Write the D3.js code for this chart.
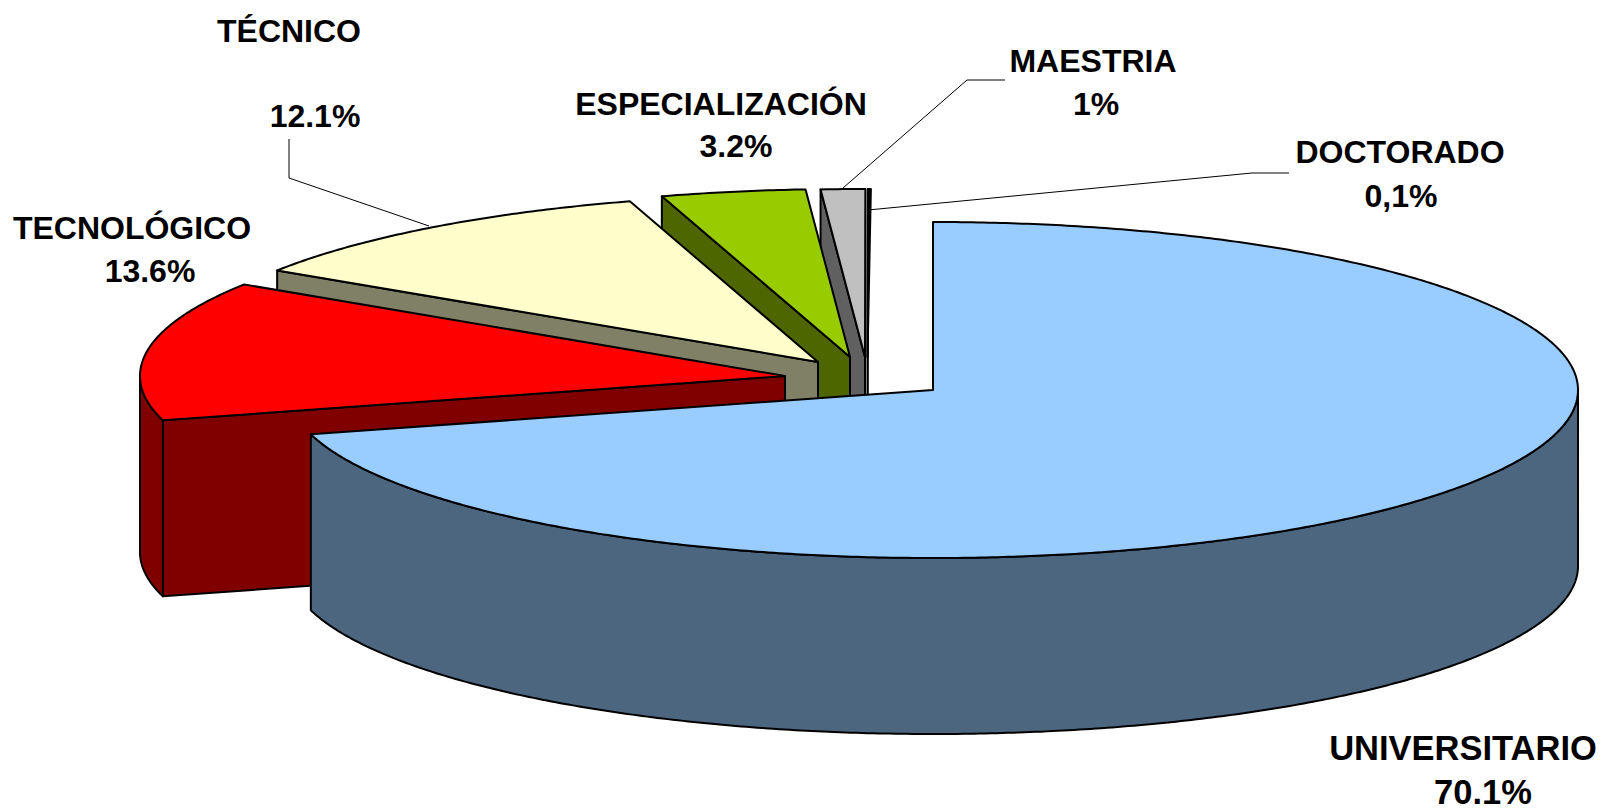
<!DOCTYPE html>
<html><head><meta charset="utf-8">
<style>html,body{margin:0;background:#fff;overflow:hidden}svg{display:block}text{font-family:"Liberation Sans",Arial,sans-serif;font-weight:bold;fill:#000;text-anchor:middle}</style>
<script src="https://cdn.jsdelivr.net/npm/d3@7/dist/d3.min.js"></script>
</head><body><svg id="c" width="1604" height="812"></svg>
<script>
const categories = ["UNIVERSITARIO","TECNOLÓGICO","TÉCNICO","ESPECIALIZACIÓN","MAESTRIA","DOCTORADO"];
const values = [70.1,13.6,12.1,3.2,1,0.1];
const valueLabels = ["70.1%","13.6%","12.1%","3.2%","1%","0,1%"];
const topColors = ["#99CCFF","#FF0000","#FFFFCC","#99CC00","#C0C0C0","#000000"];
const sideColors = ["#4C6680","#800000","#808066","#4D6600","#606060","#000000"];

// layout
const W = 1604, H = 812, rx = 645, ry = 168, depth = 176;
const apex = [[933,390],[785,376],[818,362],[850,357],[865,357],[867.5,357]];
const nameAt = [[1463,760],[132,239],[289,42],[721,115],[1093,72],[1400,163]];
const valueAt = [[1483,804],[150,282],[315,127],[736,157],[1096,115],[1401,207]];
const fontSizes = [34.5,32,32,32,32,32];
const leaders = [
  [[289,139],[289,178],[429,226]],
  [[843,188],[967,80],[1005,80]],
  [[868,210],[1252,173],[1289,173]]
];
const deg = Math.PI/180;

// perspective of the tilted pie: true pie angle -> angle on the drawn ellipse
const perspective = d3.scaleLinear()
  .domain([0,252.1,301,344.5,356,359.6,360].map(d=>d*deg))
  .range([0,254.7,303,343,356,360,360.3].map(d=>d*deg));

const arcs = d3.pie().sort(null).value(d=>d).startAngle(0).endAngle(2*Math.PI)(values);
const px = d3.scaleLinear().domain([-1,1]).range([-rx,rx]);
const py = d3.scaleLinear().domain([-1,1]).range([-ry,ry]);
const rim = (a,o,dy=0)=>[o[0]+px(Math.sin(a)), o[1]-py(Math.cos(a))+dy];
const arcPts = (a0,a1,o,dy=0)=>{
  const n = Math.max(2,Math.ceil((a1-a0)/(0.5*deg)));
  return d3.range(n+1).map(i=>rim(a0+(a1-a0)*i/n,o,dy));
};
const line = d3.line().curve(d3.curveLinear);
const closed = p=>line(p)+"Z";
const svg = d3.select("#c");
const g = svg.append("g").attr("stroke","#000").attr("stroke-width",2).attr("stroke-linejoin","round");

// back to front
d3.range(arcs.length-1,-1,-1).forEach(i=>{
  const o = apex[i];
  const a0 = perspective(arcs[i].startAngle), a1 = perspective(arcs[i].endAngle);
  // radial cut face at the start angle
  if(i>0){
    const e = rim(a0,o);
    g.append("path").attr("fill",sideColors[i])
      .attr("d",closed([o,e,[e[0],e[1]+depth],[o[0],o[1]+depth]]));
  }
  // outer wall, front half of the ellipse only
  const w0 = Math.max(a0,90*deg), w1 = Math.min(a1,270*deg);
  if(w1>w0){
    g.append("path").attr("fill",sideColors[i])
      .attr("d",closed(arcPts(w0,w1,o).concat(arcPts(w0,w1,o,depth).reverse())));
  }
  // top face
  g.append("path").attr("fill",topColors[i])
    .attr("d",closed([o].concat(arcPts(a0,a1,o))));
});

svg.append("g").attr("fill","none").attr("stroke","#000").attr("stroke-width",1)
  .selectAll("path").data(leaders).join("path").attr("d",d=>line(d));

const t = svg.append("g");
categories.forEach((c,i)=>{
  t.append("text").attr("font-size",fontSizes[i]).attr("x",nameAt[i][0]).attr("y",nameAt[i][1]).text(c);
  t.append("text").attr("font-size",fontSizes[i]).attr("x",valueAt[i][0]).attr("y",valueAt[i][1]).text(valueLabels[i]);
});
</script></body></html>
